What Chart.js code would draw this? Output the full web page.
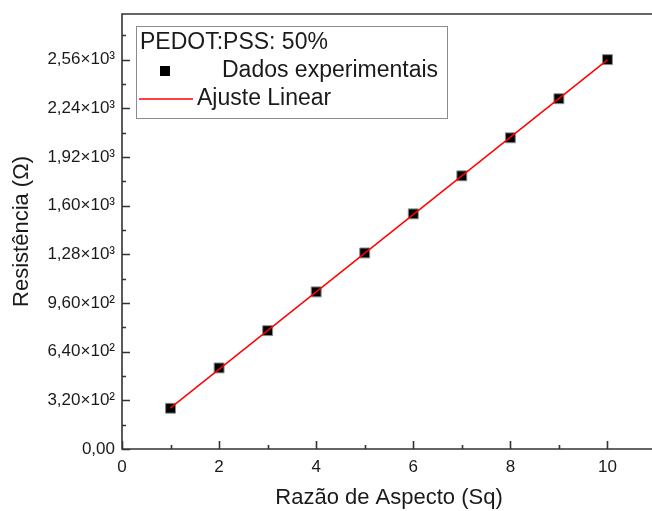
<!DOCTYPE html>
<html lang="pt">
<head>
<meta charset="utf-8">
<title>Resistência x Razão de Aspecto</title>
<script src="https://cdn.jsdelivr.net/npm/chart.js@4.4.1/dist/chart.umd.min.js"></script>
<style>
  html, body { margin: 0; padding: 0; background: #fff; overflow: hidden; }
  #wrap { position: relative; width: 664px; height: 511px; }
</style>
</head>
<body>
<div id="wrap"><canvas id="chart-resistencia"></canvas></div>
<script>
// --- Data ---
const aspectRatio = [1, 2, 3, 4, 5, 6, 7, 8, 9, 10];
const resistance = [268, 533, 778, 1033, 1289, 1546, 1796, 2046, 2303, 2560];
// linear fit, drawn between its two end points
const fitX = [1, 10];
const fitY = [270, 2558];

const xTicks = [0, 2, 4, 6, 8, 10];
const xMinorTicks = [1, 3, 5, 7, 9];
const yTicks = [0, 320, 640, 960, 1280, 1600, 1920, 2240, 2560];
const yMinorTicks = [160, 480, 800, 1120, 1440, 1760, 2080, 2400, 2720];

const legendTitle = 'PEDOT:PSS: 50%';

const FONT = "'Liberation Sans', Arial, sans-serif";
const INK = '#1a1a1a';
Chart.defaults.font.family = FONT;

// --- Tick label format: 2,56×10³ ---
const SUP = { 0: '⁰', 1: '¹', 2: '²', 3: '³', 4: '⁴' };
function sciLabel(v) {
  if (v === 0) return '0,00';
  const exp = Math.floor(Math.log10(v));
  const mant = (v / Math.pow(10, exp)).toFixed(2).replace('.', ',');
  return mant + '×10' + SUP[exp];
}

// --- Frame and inward ticks ---
const frameTicks = {
  id: 'frameTicks',
  beforeDatasetsDraw(chart) {
    const { ctx, chartArea: a, scales: { x, y } } = chart;
    ctx.save();
    ctx.strokeStyle = '#333';
    ctx.lineWidth = 1.6;
    ctx.beginPath();
    ctx.rect(a.left, a.top, a.right - a.left, a.bottom - a.top);
    xTicks.forEach(v => {
      const px = Math.round(x.getPixelForValue(v)) + 0.5;
      ctx.moveTo(px, a.bottom); ctx.lineTo(px, a.bottom - 8);
    });
    xMinorTicks.forEach(v => {
      const px = Math.round(x.getPixelForValue(v)) + 0.5;
      ctx.moveTo(px, a.bottom); ctx.lineTo(px, a.bottom - 4);
    });
    yTicks.forEach(v => {
      const py = Math.round(y.getPixelForValue(v)) + 0.5;
      ctx.moveTo(a.left, py); ctx.lineTo(a.left + 8, py);
    });
    yMinorTicks.forEach(v => {
      const py = Math.round(y.getPixelForValue(v)) + 0.5;
      ctx.moveTo(a.left, py); ctx.lineTo(a.left + 4, py);
    });
    ctx.stroke();
    ctx.restore();
  }
};

// --- Boxed legend in the upper left corner ---
const legendBox = {
  id: 'legendBox',
  afterDraw(chart) {
    const { ctx } = chart;
    const [pts, fit] = chart.data.datasets;
    ctx.save();
    ctx.fillStyle = '#fff';
    ctx.strokeStyle = '#8c8c8c';
    ctx.lineWidth = 1;
    ctx.fillRect(136, 26, 311, 92);
    ctx.strokeRect(136.5, 26.5, 311, 92);

    ctx.font = '23px ' + FONT;
    ctx.fillStyle = INK;
    ctx.textBaseline = 'middle';
    ctx.fillText(legendTitle, 140, 43);

    // marker sample
    ctx.fillStyle = pts.backgroundColor;
    ctx.fillRect(160, 66, 10, 10);
    ctx.fillStyle = INK;
    ctx.fillText(pts.label, 222, 71);

    // line sample
    ctx.strokeStyle = fit.borderColor;
    ctx.lineWidth = fit.borderWidth;
    ctx.beginPath();
    ctx.moveTo(139, 99); ctx.lineTo(193, 99);
    ctx.stroke();
    ctx.fillText(fit.label, 197, 99);
    ctx.restore();
  }
};

// --- Chart ---
const ctx = document.getElementById('chart-resistencia');

new Chart(ctx, {
  type: 'scatter',
  data: {
    datasets: [
      {
        label: 'Dados experimentais',
        data: aspectRatio.map((x, i) => ({ x, y: resistance[i] })),
        pointStyle: 'rect',
        pointRadius: 7,
        backgroundColor: '#000',
        borderColor: '#8a8a8a',
        borderWidth: 1,
        order: 2,
      },
      {
        label: 'Ajuste Linear',
        type: 'line',
        data: fitX.map((x, i) => ({ x, y: fitY[i] })),
        borderColor: '#ff0000',
        borderWidth: 1.5,
        pointRadius: 0,
        fill: false,
        order: 1,
      },
    ],
  },
  options: {
    responsive: true,
    maintainAspectRatio: false,
    animation: false,
    layout: { padding: { top: 14, right: 2, left: 0, bottom: 0 } },
    plugins: {
      legend: { display: false },
      tooltip: { enabled: false },
    },
    scales: {
      x: {
        type: 'linear',
        min: 0,
        max: 11,
        afterBuildTicks: s => { s.ticks = xTicks.map(v => ({ value: v })); },
        afterFit: s => { s.height = 62; s.paddingLeft = 0; s.paddingRight = 0; },
        grid: { display: false, drawTicks: false },
        border: { display: false },
        ticks: { color: INK, font: { size: 17 }, padding: 8, maxRotation: 0, autoSkip: false },
        title: {
          display: true,
          text: 'Razão de Aspecto (Sq)',
          color: INK,
          font: { size: 22 },
          padding: { top: 0, bottom: 0 },
        },
      },
      y: {
        type: 'linear',
        min: 0,
        max: 2860,
        afterBuildTicks: s => { s.ticks = yTicks.map(v => ({ value: v })); },
        afterFit: s => { s.width = 122; s.paddingTop = 0; s.paddingBottom = 0; },
        grid: { display: false, drawTicks: false },
        border: { display: false },
        ticks: { color: INK, font: { size: 17 }, padding: 7, callback: v => sciLabel(v) },
        title: {
          display: true,
          text: 'Resistência (Ω)',
          color: INK,
          font: { size: 22 },
          padding: { top: 9, bottom: 0 },
        },
      },
    },
  },
  plugins: [frameTicks, legendBox],
});
</script>
</body>
</html>
